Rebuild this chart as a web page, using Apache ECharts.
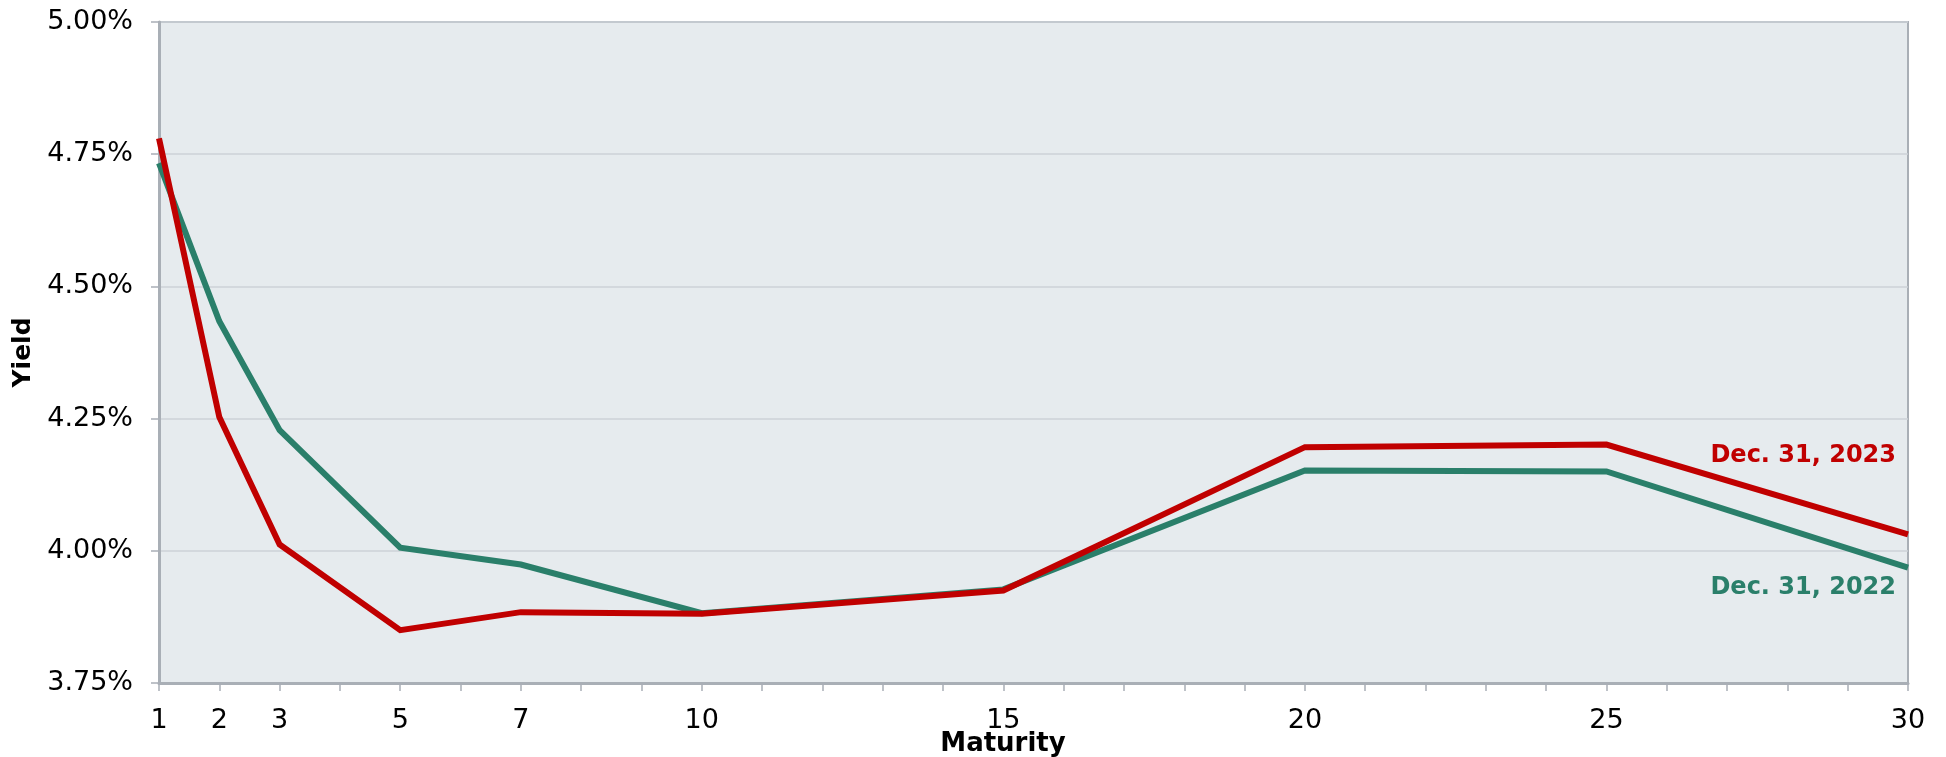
<!DOCTYPE html>
<html>
<head>
<meta charset="utf-8">
<title>Yield Curve</title>
<script src="https://cdn.jsdelivr.net/npm/echarts@6/dist/echarts.min.js"></script>
<style>
  html, body { margin: 0; padding: 0; background: #ffffff; }
  #chart { width: 1946px; height: 757px; }
</style>
</head>
<body>
<div id="chart"></div>
<script>
// Maturities in years and yields in percent
const maturities = [1, 2, 3, 5, 7, 10, 15, 20, 25, 30];
const yields2023 = [4.78, 4.253, 4.012, 3.85, 3.884, 3.881, 3.925, 4.196, 4.201, 4.031];
const yields2022 = [4.733, 4.434, 4.228, 4.006, 3.974, 3.882, 3.927, 4.152, 4.150, 3.968];
const labeledTicks = [1, 2, 3, 5, 7, 10, 15, 20, 25, 30];
const seriesNames = ['Dec. 31, 2023', 'Dec. 31, 2022'];
const xTitle = 'Maturity';
const yTitle = 'Yield';

const RED = '#C00000';
const GREEN = '#2A7F6A';
const FONT = '"DejaVu Sans", Verdana, sans-serif';

const pairs = (ys) => maturities.map((m, i) => [m, ys[i]]);

const chart = echarts.init(document.getElementById('chart'), null, { renderer: 'canvas' });

const option = {
  animation: false,
  backgroundColor: '#ffffff',
  grid: {
    left: 159, right: 38, top: 22, bottom: 74,
    containLabel: false,
    outerBoundsMode: 'none',
    show: true,
    backgroundColor: '#E6EBEE',
    borderColor: '#A9AFB6',
    borderWidth: 2
  },
  xAxis: {
    type: 'value',
    min: 1, max: 30, interval: 1,
    axisLine: { show: true, lineStyle: { color: '#A9AFB6', width: 3 } },
    axisTick: { show: true, length: 8, lineStyle: { color: '#A9AFB6', width: 1.5 } },
    splitLine: { show: false },
    axisLabel: {
      margin: 24,
      fontFamily: FONT, fontSize: 27, color: '#000',
      showMinLabel: true, showMaxLabel: true,
      formatter: (v) => labeledTicks.includes(v) ? String(v) : ''
    }
  },
  yAxis: {
    type: 'value',
    min: 3.75, max: 5.0, interval: 0.25,
    name: yTitle,
    nameLocation: 'middle',
    nameGap: 123,
    nameRotate: 90,
    nameTextStyle: { fontFamily: FONT, fontWeight: 'bold', fontSize: 25, color: '#000' },
    axisLine: { show: true, lineStyle: { color: '#A9AFB6', width: 3 } },
    axisTick: { show: true, length: 8, lineStyle: { color: '#A9AFB6', width: 1.5 } },
    splitLine: { show: true, lineStyle: { color: '#CDD2D7', width: 1.5 } },
    axisLabel: {
      margin: 26,
      fontFamily: FONT, fontSize: 27, color: '#000',
      formatter: (v) => v.toFixed(2) + '%'
    }
  },
  series: [
    {
      name: seriesNames[1],
      type: 'line',
      data: pairs(yields2022),
      showSymbol: false,
      lineStyle: { color: GREEN, width: 6, join: 'miter' },
      z: 2
    },
    {
      name: seriesNames[0],
      type: 'line',
      data: pairs(yields2023),
      showSymbol: false,
      lineStyle: { color: RED, width: 6, join: 'miter' },
      z: 3
    }
  ]
};

chart.setOption(option);

// Series name labels near the 30-year end of each curve, and the x-axis title
const last = maturities.length - 1;
const pRed = chart.convertToPixel({ gridIndex: 0 }, [maturities[last], yields2023[last]]);
const pGreen = chart.convertToPixel({ gridIndex: 0 }, [maturities[last], yields2022[last]]);
const axisBottom = chart.convertToPixel({ gridIndex: 0 }, [1, 3.75])[1];

chart.setOption({
  graphic: [
    {
      type: 'text',
      x: pRed[0] - 12, y: pRed[1] - 79,
      style: {
        text: seriesNames[0],
        fill: RED,
        font: 'bold 24px ' + FONT,
        align: 'right', verticalAlign: 'middle'
      },
      z: 10
    },
    {
      type: 'text',
      x: pGreen[0] - 12, y: pGreen[1] + 20,
      style: {
        text: seriesNames[1],
        fill: GREEN,
        font: 'bold 24px ' + FONT,
        align: 'right', verticalAlign: 'middle'
      },
      z: 10
    },
    {
      type: 'text',
      x: 1003, y: axisBottom + 61,
      style: {
        text: xTitle,
        fill: '#000',
        font: 'bold 26px ' + FONT,
        align: 'center', verticalAlign: 'middle'
      },
      z: 10
    }
  ]
});
</script>
</body>
</html>
